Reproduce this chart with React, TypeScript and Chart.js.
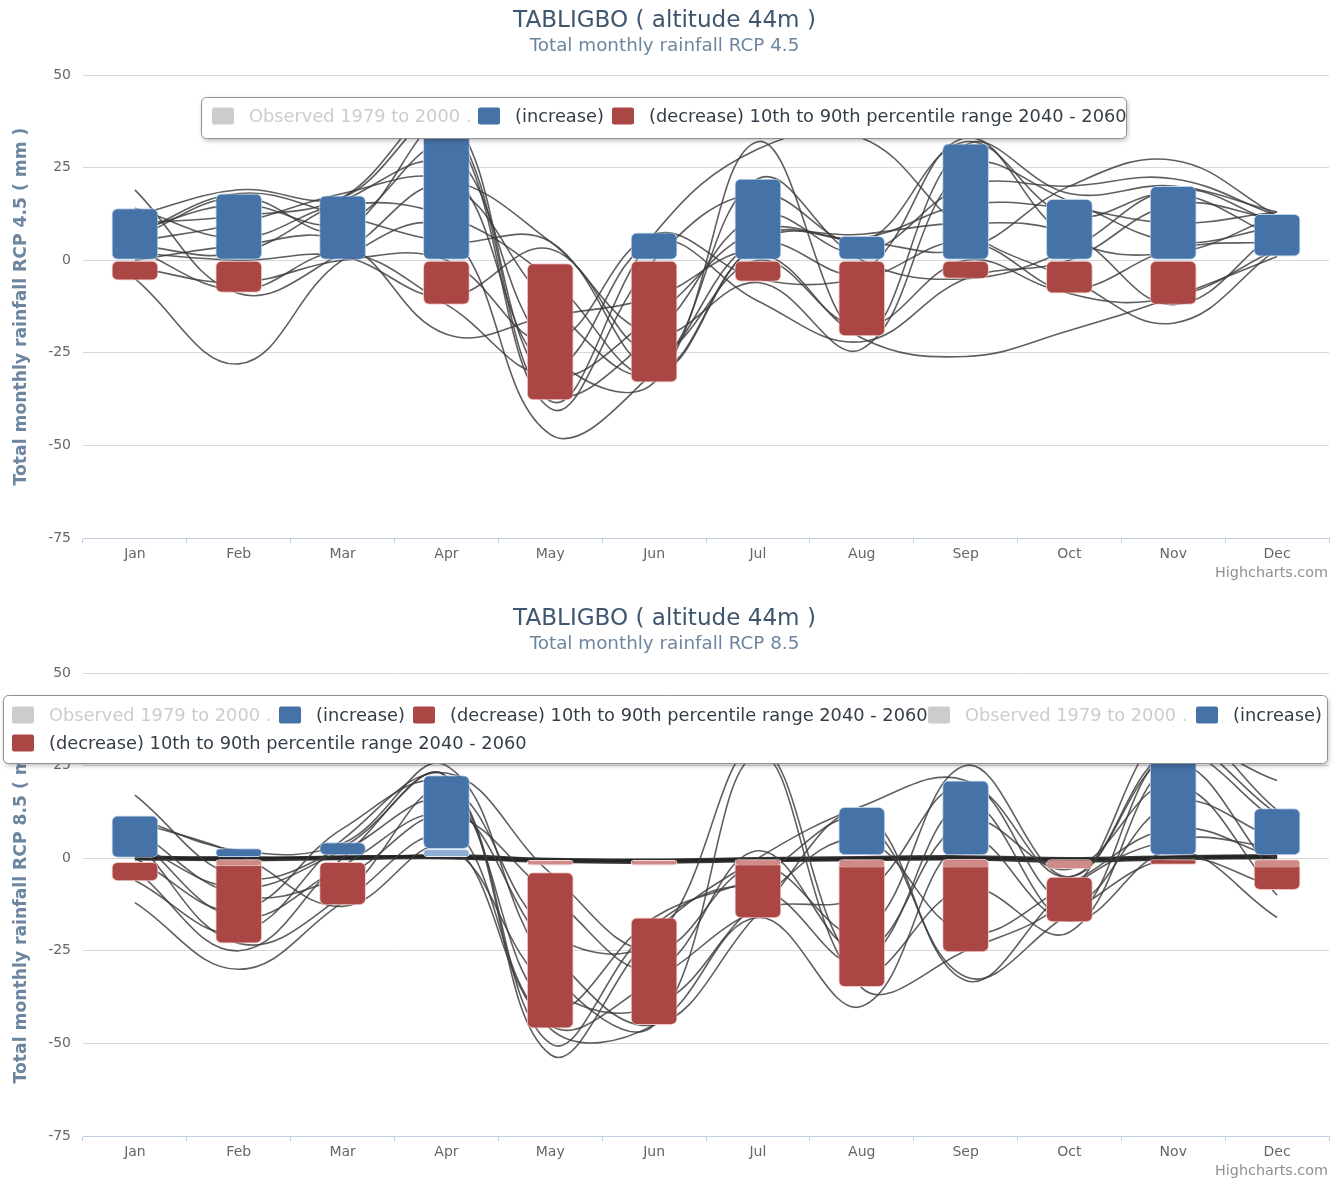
import { useEffect, useRef } from 'react';
import { Chart, registerables } from 'chart.js';

Chart.register(...registerables);

const FONT = '"DejaVu Sans", "Noto Sans", sans-serif';

// ---------- shared labels ----------
const months = ['Jan', 'Feb', 'Mar', 'Apr', 'May', 'Jun', 'Jul', 'Aug', 'Sep', 'Oct', 'Nov', 'Dec'];
const yTickValues = [50, 25, 0, -25, -50, -75];
const chartTitle = 'TABLIGBO ( altitude 44m )';
const legendObserved = 'Observed 1979 to 2000 .';
const legendIncrease = '(increase)';
const legendDecrease = '(decrease) 10th to 90th percentile range 2040 - 2060';
const creditText = 'Highcharts.com';

// ---------- RCP 4.5 ----------
const subtitle45 = 'Total monthly rainfall RCP 4.5';
const yTitle45 = 'Total monthly rainfall RCP 4.5 ( mm )';
const increase45 = [[0, 14], [0, 18], [0, 17.5], [0, 40], null, [0, 7.5], [0, 22], [0, 6.5], [0, 31.5], [0, 16.5], [0, 20], [1, 12.5]];
const decrease45 = [[0, -5.5], [0, -8.8], null, [0, -12], [-0.8, -37.8], [0, -33], [0, -5.8], [0, -20.5], [0, -5], [0, -9], [0, -12], null];
const models45 = [
  [19, -9, 2, 20, -12, -31, 4, -3, 33, 6, 2, 12],
  [-5, -28, 0, 8, -47, -30, 6, 5, 3, 20, 27, 12],
  [12, 19, 17, 38, -38, 7, 30, 33, 8, -5, -17, 3],
  [8, 15, 10, 30, -25, -33, 32, -20, 31, 18, 20, 13],
  [5, 10, 18, 22, 5, -20, -6, -24, 25, 16, 5, 9],
  [3, -8, 2, -12, -30, 5, -11, -22, -5, 0, 15, 11],
  [0, 4, 5, -20, -15, -10, 2, -21, -26, -19, -10, 1],
  [14, 6, 15, 12, -5, -31, 5, 7, 10, 7, -12, 8],
  [6, 17, 8, 36, -40, 0, 18, 5, 32, 12, 18, 6],
  [2, 0, 1, -10, 3, -25, 0, -18, 0, -8, 3, 5],
  [10, 12, 17, 40, -35, -20, 12, 2, 20, 20, 22, 12],
  [-2, -6, 0, 0, -22, 7, -5, -5, 5, -9, -10, 3],
  [7, 18, 12, 5, 5, -28, 22, 0, -5, 3, 19, 10],
  [4, 2, 16, 25, -30, -15, 8, 6, 15, 14, 10, 13],
];

// ---------- RCP 8.5 ----------
const subtitle85 = 'Total monthly rainfall RCP 8.5';
const yTitle85 = 'Total monthly rainfall RCP 8.5 ( mm )';
const increase85 = [[0, 11.5], [0.3, 2.7], [0.8, 4.3], [2.5, 22.4], null, null, null, [0.8, 13.8], [0.8, 21], null, [0.8, 32], [0.8, 13.5]];
const decrease85 = [[-1, -6.2], [-0.5, -23], [-1, -12.7], null, [-3.8, -46], [-16, -45], [-0.5, -16.2], [-0.5, -34.8], [0, -25.4], [-5, -17.3], [-0.3, -1.8], [-0.5, -8.6]];
const increase85b = [null, null, null, [0.3, 2.5], null, null, null, null, null, null, null, null];
const decrease85b = [null, [-0.3, -2.2], null, null, [-0.5, -2], [-0.5, -2], [-0.3, -2], [-0.3, -2.5], [-0.3, -2.5], [-0.3, -3], null, [-0.3, -2.5]];
const models85 = [
  [17, -5, 3, 22, -53, -20, 0, 14, 21, -5, 30, 21],
  [-12, -30, -12, 5, -46, -45, -16, -40, 5, -17, 2, -16],
  [11, 2, 4, 25, -30, -45, 28, -35, -25, -10, 35, 13],
  [5, -23, -10, 18, -40, -16, -5, 10, -32, -15, 0, -8],
  [-6, -20, 5, 23, -4, -25, -2, -20, 25, -5, 28, 10],
  [8, -10, -5, 10, -45, -33, -14, -10, 20, -12, 15, 5],
  [0, -14, 8, 20, -20, -22, 30, -30, -8, -20, 25, -5],
  [10, 1, -13, 3, -35, -40, -12, 5, -20, -7, 8, 0],
  [-3, -25, 0, 22, -50, -18, -8, -28, 15, -16, 30, 12],
  [4, -8, 2, 15, -25, -45, -15, 12, -33, -8, 5, 3],
  [6, -16, -2, 12, -10, -30, 2, -25, 10, -3, 20, -10],
];
// models whose change stays close to zero (they form the dark band along 0)
const nearZero85 = [
  [0.5, 0, 0.3, 0.5, -0.5, -0.8, -0.3, 0, 0.2, -0.5, 0.3, 0.5],
  [-0.3, -0.5, -0.2, 0, -1, -1.2, -0.8, -0.5, -0.3, -1, -0.2, 0],
  [0, 0.3, 0, 0.8, -0.2, -0.4, 0, 0.3, 0.5, 0, 0.5, 0.8],
  [0.2, -0.2, 0.5, 0.3, -0.7, -0.6, -0.5, -0.2, 0, -0.3, 0, 0.3],
];

// ---------- styles ----------
const BLUE = '#4572A7';
const RED = '#AA4643';
const PALE_RED = '#D08A88';
const PALE_BLUE = '#8FAED3';
const GREY_SYM = '#CCCCCC';

function fitSize(text: string, width: number, weight = 'normal', base = 20) {
  const c = document.createElement('canvas').getContext('2d')!;
  c.font = `${weight} ${base}px ${FONT}`;
  const w = c.measureText(text).width;
  return (base * width) / w;
}

function roundRect(ctx: CanvasRenderingContext2D, x: number, y: number, w: number, h: number, r: number) {
  ctx.beginPath();
  ctx.moveTo(x + r, y);
  ctx.lineTo(x + w - r, y);
  ctx.arcTo(x + w, y, x + w, y + r, r);
  ctx.lineTo(x + w, y + h - r);
  ctx.arcTo(x + w, y + h, x + w - r, y + h, r);
  ctx.lineTo(x + r, y + h);
  ctx.arcTo(x, y + h, x, y + h - r, r);
  ctx.lineTo(x, y + r);
  ctx.arcTo(x, y, x + r, y, r);
  ctx.closePath();
}

type LegendItem = { text: string; color: string; hidden?: boolean; x: number };
type LegendRow = { y: number; items: LegendItem[] };

const overlayPlugin = {
  id: 'overlay',
  afterDraw(chart: any, _args: any, opts: any) {
    const ctx: CanvasRenderingContext2D = chart.ctx;
    const { box, rows, fontSize, creditSize, creditY } = opts;
    ctx.save();
    // legend box
    ctx.shadowColor = 'rgba(0,0,0,0.28)';
    ctx.shadowBlur = 5;
    ctx.shadowOffsetX = 1;
    ctx.shadowOffsetY = 2;
    roundRect(ctx, box.x + 0.5, box.y + 0.5, box.w, box.h, 5);
    ctx.fillStyle = '#FFFFFF';
    ctx.fill();
    ctx.shadowColor = 'transparent';
    ctx.strokeStyle = '#909090';
    ctx.lineWidth = 1;
    ctx.stroke();
    // items
    ctx.font = `normal ${fontSize}px ${FONT}`;
    ctx.textBaseline = 'middle';
    ctx.textAlign = 'left';
    (rows as LegendRow[]).forEach((row) => {
      row.items.forEach((it) => {
        roundRect(ctx, it.x, row.y - 8.5, 22, 17, 2);
        ctx.fillStyle = it.hidden ? GREY_SYM : it.color;
        ctx.fill();
        ctx.fillStyle = it.hidden ? '#CCCCCC' : '#333D47';
        ctx.fillText(it.text, it.x + 37, row.y + 1);
      });
    });
    // credits
    ctx.font = `normal ${creditSize}px ${FONT}`;
    ctx.fillStyle = '#909090';
    ctx.textAlign = 'right';
    ctx.fillText(creditText, 1328, creditY);
    ctx.restore();
  },
};

function lineSet(models: number[][], prefix: string, color: string, width: number) {
  return models.map((m, i) => ({
    type: 'line',
    label: prefix + ' ' + (i + 1),
    data: m,
    borderColor: color,
    borderWidth: width,
    pointRadius: 0,
    pointHoverRadius: 0,
    tension: 0.4,
    fill: false,
    order: 10,
  }));
}

function makeConfig(spec: {
  subtitle: string;
  yTitle: string;
  bars: { label: string; data: any[]; color: string; border: string; order: number }[];
  models: number[][];
  flatModels: number[][];
  legendBox: { x: number; y: number; w: number; h: number };
  legendRows: LegendRow[];
  bottomPad: number;
}): any {
  const titleSize = fitSize(chartTitle, 303);
  const subSize = fitSize(spec.subtitle, 270);
  const yTitleSize = fitSize(spec.yTitle, 358, 'bold');
  const legendSize = fitSize(legendDecrease, 478);
  const creditSize = fitSize(creditText, 113);
  const titleLH = titleSize * 1.2;
  const subLH = subSize * 1.2;
  const titlePadTop = 21 - titleLH / 2;
  const titleBottom = titlePadTop + titleLH;
  const subPadTop = 46 - subLH / 2 - titleBottom;
  const subPadBottom = 75 - (46 + subLH / 2);

  const datasets: any[] = [
    ...spec.bars.map((b) => ({
      type: 'bar',
      label: b.label,
      data: b.data,
      backgroundColor: b.color,
      borderColor: b.border,
      borderWidth: 1,
      borderRadius: 6,
      borderSkipped: false,
      grouped: false,
      barPercentage: 0.45,
      categoryPercentage: 1,
      order: b.order,
    })),
    ...lineSet(spec.models, 'Model', 'rgba(60,60,60,0.82)', 1.6),
    ...lineSet(spec.flatModels, 'Model (near zero)', 'rgba(35,35,35,0.9)', 2.4),
  ];

  return {
    type: 'bar',
    data: { labels: months, datasets },
    plugins: [overlayPlugin],
    options: {
      responsive: false,
      animation: false,
      devicePixelRatio: 1,
      layout: { padding: { top: 0, left: 0, right: 10, bottom: spec.bottomPad } },
      font: { family: FONT },
      plugins: {
        legend: { display: false },
        tooltip: { enabled: false },
        title: {
          display: true,
          text: chartTitle,
          color: '#3E576F',
          font: { family: FONT, size: titleSize, weight: 'normal', lineHeight: 1.2 },
          padding: { top: titlePadTop, bottom: 0 },
        },
        subtitle: {
          display: true,
          text: spec.subtitle,
          color: '#6D869F',
          font: { family: FONT, size: subSize, weight: 'normal', lineHeight: 1.2 },
          padding: { top: subPadTop, bottom: subPadBottom },
        },
        overlay: {
          box: spec.legendBox,
          rows: spec.legendRows,
          fontSize: legendSize,
          creditSize,
          creditY: 573,
        },
      },
      scales: {
        x: {
          type: 'category',
          offset: true,
          grid: {
            display: true,
            drawOnChartArea: false,
            drawTicks: true,
            tickLength: 5,
            color: '#C0D0E0',
            offset: true,
          },
          border: { display: true, color: '#C0D0E0' },
          ticks: { color: '#666666', font: { family: FONT, size: 14 }, padding: 3 },
          afterFit(s: any) {
            s.height = 46;
          },
        },
        y: {
          min: -75,
          max: 50,
          afterBuildTicks(s: any) {
            s.ticks = yTickValues.map((v) => ({ value: v }));
          },
          ticks: { color: '#666666', font: { family: FONT, size: 14 }, padding: 12 },
          grid: { color: '#D8D8D8', lineWidth: 1, drawTicks: false },
          border: { display: false },
          title: {
            display: true,
            text: spec.yTitle,
            color: '#6D869F',
            font: { family: FONT, size: yTitleSize, weight: 'bold' },
            padding: { top: 11, bottom: 0 },
          },
          afterFit(s: any) {
            s.width = 83;
          },
        },
      },
    },
  };
}

function ChartCanvas({ build, height }: { build: () => any; height: number }) {
  const ref = useRef<HTMLCanvasElement>(null);
  useEffect(() => {
    const chart = new Chart(ref.current!, build());
    return () => chart.destroy();
  }, []);
  return <canvas ref={ref} width={1339} height={height} style={{ display: 'block', width: 1339, height }} />;
}

const build45 = () =>
  makeConfig({
    subtitle: subtitle45,
    yTitle: yTitle45,
    bars: [
      { label: legendIncrease, data: increase45, color: BLUE, border: '#B8D0EC', order: 1 },
      { label: legendDecrease, data: decrease45, color: RED, border: '#F2C4C2', order: 1 },
    ],
    models: models45,
    flatModels: [],
    legendBox: { x: 201, y: 97, w: 925, h: 41 },
    legendRows: [
      {
        y: 116,
        items: [
          { text: legendObserved, color: GREY_SYM, hidden: true, x: 212 },
          { text: legendIncrease, color: BLUE, x: 478 },
          { text: legendDecrease, color: RED, x: 612 },
        ],
      },
    ],
    bottomPad: 14,
  });

const build85 = () =>
  makeConfig({
    subtitle: subtitle85,
    yTitle: yTitle85,
    bars: [
      { label: legendIncrease, data: increase85, color: BLUE, border: '#B8D0EC', order: 1 },
      { label: legendDecrease, data: decrease85, color: RED, border: '#F2C4C2', order: 1 },
      { label: legendIncrease + ' 2', data: increase85b, color: PALE_BLUE, border: '#E0ECF8', order: 0 },
      { label: legendDecrease + ' 2', data: decrease85b, color: PALE_RED, border: '#F8DCDC', order: 0 },
    ],
    models: models85,
    flatModels: nearZero85,
    legendBox: { x: 3, y: 97, w: 1324, h: 68 },
    legendRows: [
      {
        y: 117,
        items: [
          { text: legendObserved, color: GREY_SYM, hidden: true, x: 12 },
          { text: legendIncrease, color: BLUE, x: 279 },
          { text: legendDecrease, color: RED, x: 413 },
          { text: legendObserved, color: GREY_SYM, hidden: true, x: 928 },
          { text: legendIncrease, color: BLUE, x: 1196 },
        ],
      },
      {
        y: 145,
        items: [{ text: legendDecrease, color: RED, x: 12 }],
      },
    ],
    bottomPad: 14,
  });

export default function App() {
  return (
    <div
      style={{
        position: 'absolute',
        left: 0,
        top: 0,
        width: 1339,
        height: 1184,
        overflow: 'hidden',
        background: '#FFFFFF',
      }}
    >
      <ChartCanvas build={build45} height={598} />
      <ChartCanvas build={build85} height={598} />
    </div>
  );
}
